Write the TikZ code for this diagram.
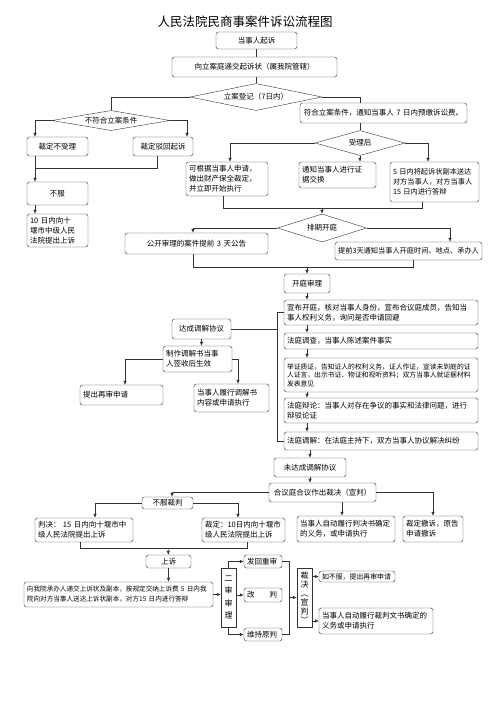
\documentclass[tikz,border=0pt]{standalone}
\usepackage{fontspec}
\setmainfont{Noto Sans CJK SC}
\usetikzlibrary{shapes.geometric,arrows.meta}
\begin{document}
\begin{tikzpicture}[x=1pt,y=-1pt,
  box/.style={draw=black!80, rounded corners=2.5pt, fill=white, inner xsep=3pt, inner ysep=1pt, align=left, font=\fontsize{7.5}{10}\selectfont},
  ctext/.style={align=center},
  dia/.style={draw=black!80, diamond, aspect=4, inner sep=0pt, font=\fontsize{7.5}{10}\selectfont},
  ln/.style={draw=black!80, line width=0.6pt},
  arr/.style={ln, -{Latex[length=4pt,width=3.6pt]}}]
\useasboundingbox (0,0) rectangle (500,707);

\node[font=\fontsize{12.5}{14}\selectfont] (tt) at (245,22) {人民法院民商事案件诉讼流程图};

\node[box, ctext, text width=75pt, minimum height=17pt] (qs) at (256.5,40.5) {当事人起诉};
\node[box, ctext, text width=159pt, minimum height=20pt] (dj) at (254.5,67) {向立案庭递交起诉状（属我院管辖）};
\node[dia, minimum width=132pt, minimum height=27pt] (la) at (256,97) {立案登记（7日内）};
\node[dia, minimum width=118pt, minimum height=17pt] (bfh) at (111,120.5) {不符合立案条件};
\node[box, ctext, text width=55pt, minimum height=19pt] (bsl) at (57.5,146.5) {裁定不受理};
\node[box, ctext, text width=54pt, minimum height=19pt] (bbh) at (163,146.5) {裁定驳回起诉};
\node[box, ctext, text width=55pt, minimum height=23pt] (bf) at (57.5,193.5) {不服};
\node[box, text width=55pt, minimum height=33pt] (sy) at (57.5,230.5) {10~日内向十\\堰市中级人民\\法院提出上诉};
\node[box, ctext, text width=161pt, minimum height=20pt] (fh) at (383.5,113) {符合立案条件，通知当事人~7~日内预缴诉讼费。};
\node[dia, minimum width=90pt, minimum height=25pt] (sl) at (360,143) {受理后};
\node[box, text width=76pt, minimum height=34pt] (kg) at (227,179) {可根据当事人申请，\\做出财产保全裁定，\\并立即开始执行};
\node[box, text width=71pt, minimum height=26pt] (tz) at (337.5,175) {通知当事人进行证\\据交换};
\node[box, text width=83pt, minimum height=40pt, font=\fontsize{7.2}{10}\selectfont] (wr) at (434.5,182) {5~日内将起诉状副本送达\\对方当事人，对方当事人\\15~日内进行答辩};
\node[dia, minimum width=89pt, minimum height=28pt] (pq) at (322,228) {排期开庭};
\node[box, ctext, text width=137pt, minimum height=21pt] (gk) at (196.5,243.5) {公开审理的案件提前~3~天公告};
\node[box, ctext, text width=141pt, minimum height=18pt, font=\fontsize{7.2}{10}\selectfont] (tq) at (408.5,251) {提前3天通知当事人开庭时间、地点、承办人};
\node[box, ctext, text width=40pt, minimum height=19pt] (kt) at (307,283.5) {开庭审理};
\node[box, text width=188pt, minimum height=25pt] (p1) at (381,312.5) {宣布开庭，核对当事人身份，宣布合议庭成员，告知当\\事人权利义务，询问是否申请回避};
\node[box, text width=188pt, minimum height=16pt] (p2) at (381,341) {法庭调查，当事人陈述案件事实};
\node[box, text width=188pt, minimum height=34pt, font=\fontsize{6.8}{8.5}\selectfont] (p3) at (381,375) {举证质证，告知证人的权利义务，证人作证，宣读未到庭的证\\人证言，出示书证、物证和视听资料；双方当事人就证据材料\\发表意见};
\node[box, text width=188pt, minimum height=25pt] (p4) at (381,410.5) {法庭辩论：当事人对存在争议的事实和法律问题，进行\\辩驳论证};
\node[box, text width=188pt, minimum height=18pt] (p5) at (381,441) {法庭调解：在法庭主持下，双方当事人协议解决纠纷};
\node[box, ctext, text width=53pt, minimum height=20pt] (dc) at (201.5,329) {达成调解协议};
\node[box, text width=63pt, minimum height=26pt] (zz) at (197.5,359) {制作调解书当事\\人签收后生效};
\node[box, text width=77pt, minimum height=20pt] (zs) at (121.5,395) {提出再审申请};
\node[box, text width=69pt, minimum height=28pt] (lx) at (231.5,398) {当事人履行调解书\\内容或申请执行};
\node[box, ctext, text width=66pt, minimum height=19pt] (wd) at (310,467.5) {未达成调解协议};
\node[box, ctext, text width=101pt, minimum height=19pt] (hy) at (322.5,492.5) {合议庭合议作出裁决（宣判）};
\node[box, ctext, text width=45pt, minimum height=12pt] (bfc) at (167.5,503) {不服裁判};
\node[box, text width=92pt, minimum height=24pt] (pj) at (84,530) {判决：~15~日内向十堰市中\\级人民法院提出上诉};
\node[box, text width=77pt, minimum height=24pt] (cd) at (243.5,530) {裁定：10日内向十堰市\\级人民法院提出上诉};
\node[box, text width=92pt, minimum height=26pt] (dd) at (346,529) {当事人自动履行判决书确定\\的义务，或申请执行};
\node[box, text width=54pt, minimum height=26pt] (cs) at (433,529) {裁定撤诉，原告\\申请撤诉};
\node[box, ctext, text width=39pt, minimum height=13pt] (ss) at (168.5,561.5) {上诉};
\node[box, text width=183pt, minimum height=25pt, font=\fontsize{6.6}{10}\selectfont] (sz) at (118.5,594.5) {向我院承办人递交上诉状及副本，按规定交纳上诉费~5~日内我\\院向对方当事人送达上诉状副本，对方15~日内进行答辩};
\node[box, ctext, text width=9pt, minimum height=59pt, font=\fontsize{8}{12.5}\selectfont, rounded corners=0pt] (es) at (228.5,597.5) {二\\审\\审\\理};
\node[box, text width=32pt, minimum height=13pt] (fc) at (263,561.5) {发回重审};
\node[box, text width=32pt, minimum height=14pt] (gp) at (263,595) {改\hspace{15pt}判};
\node[box, text width=32pt, minimum height=13pt] (wc) at (263,634.5) {维持原判};
\node[box, ctext, text width=9pt, minimum height=59pt, font=\fontsize{8}{9}\selectfont, rounded corners=0pt] (cj) at (304.5,597.5) {裁\\决\\︵\\宣\\判\\︶};
\node[box, text width=70pt, minimum height=11pt, font=\fontsize{6.9}{9}\selectfont] (rb) at (357,576.5) {如不服，提出再审申请};
\node[box, text width=108pt, minimum height=26pt] (zx) at (376,621) {当事人自动履行裁判文书确定的\\义务或申请执行};

\coordinate (j1) at (35,168);
\coordinate (j2) at (322,208);
\coordinate (j3) at (307,267);
\coordinate (j4) at (168,548);

\draw[ln] (qs.south) -- (qs.south |- dj.north);
\draw[ln] (la.north |- dj.south) -- (la.north);
\draw[ln] (la.west) -| (bfh.north);
\draw[arr] (bfh.west) -| ([xshift=-22.5pt]bsl.north);
\draw[arr] (bfh.east) -| ([xshift=24pt]bbh.north);
\draw[arr] ([xshift=-22.5pt]bsl.south) -- ([xshift=-22.5pt]bf.north);
\draw[ln] ([xshift=-6pt]bbh.south) |- (j1);
\draw[arr] ([xshift=-22.5pt]bf.south) -- ([xshift=-22.5pt]sy.north);

\draw[ln] (la.east) -| ([xshift=-23.5pt]fh.north);
\draw[ln] ([xshift=-23.5pt]fh.south) -- (sl.north);
\draw[arr] (sl.west) -| ([xshift=3pt]kg.north);
\draw[arr] (sl.south) -- ([xshift=22.5pt]tz.north);
\draw[arr] (sl.east) -| ([xshift=-6.5pt]wr.north);
\draw[ln] ([xshift=-4pt]kg.south) |- (j2);
\draw[ln] ([xshift=-12.5pt]wr.south) |- (j2);
\draw[arr] (j2) -- (pq.north);
\draw[arr] (pq.west) -| ([xshift=-3.5pt]gk.north);
\draw[arr] (pq.east) -| ([xshift=41.5pt]tq.north);
\draw[ln] ([xshift=-3.5pt]gk.south) |- (j3);
\draw[ln] ([xshift=4.5pt]tq.south) |- (j3);
\draw[arr] (j3) -- (kt.north);

\draw[arr] (kt.south) -- ([xshift=-74pt]p1.north);
\foreach \a/\b in {p1/p2,p2/p3,p3/p4,p4/p5}
  \draw[arr] ([xshift=-74pt]\a.south) -- ([xshift=-74pt]\b.north);
\draw[ln] (p1.west) -- ++(-7,0) |- (p5.west);
\draw[ln] (dc.east) -- ++(46,0);
\draw[arr] (dc.south) -- (dc.south |- zz.north);
\draw[arr] (zz.west) -| ([xshift=3.5pt]zs.north);
\draw[arr] (zz.east) -| ([xshift=6.5pt]lx.north);

\draw[arr] ([xshift=-71pt]p5.south) -- (wd.north);
\draw[arr] (wd.south) -- (wd.south |- hy.north);
\draw[arr] (hy.west) -| ([xshift=4.5pt]bfc.north);
\draw[arr] (bfc.west) -| ([xshift=11pt]pj.north);
\draw[arr] (bfc.east) -| ([xshift=-5.5pt]cd.north);
\draw[ln] ([xshift=-4pt]pj.south) |- (j4);
\draw[ln] ([xshift=3.5pt]cd.south) |- (j4);
\draw[arr] (j4) -- (ss.north);
\draw[arr] ([xshift=19.5pt]hy.south) -- ([xshift=19.5pt]hy.south |- dd.north);
\draw[arr] (hy.east) -| (cs.north);

\draw[arr] (ss.south) -- (ss.south |- sz.north);
\draw[arr] (sz.east) -- (sz.east -| es.west);
\draw[arr] (es.north) |- (fc.west);
\draw[arr] (gp.west -| es.east) -- (gp.west);
\draw[arr] (es.south) |- (wc.west);
\draw[ln] (fc.east) -- ++(7,0) |- (wc.east);
\draw[arr] ([xshift=-8pt]cj.west) -- (cj.west);
\draw[arr] (rb.west -| cj.east) -- (rb.west);
\draw[arr] (zx.west -| cj.east) -- (zx.west);
\end{tikzpicture}
\end{document}
